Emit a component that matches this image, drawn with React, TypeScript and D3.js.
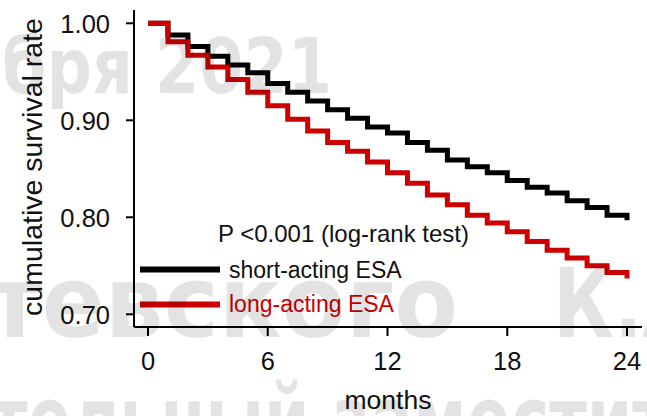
import React from "react";
import * as d3 from "d3";

// months of follow-up
const months = [0,1,2,3,4,5,6,7,8,9,10,11,12,13,14,15,16,17,18,19,20,21,22,23,24];
// cumulative survival, short-acting ESA
const shortActing = [1.0,0.988,0.976,0.966,0.957,0.949,0.938,0.929,0.920,0.911,0.902,0.893,0.887,0.877,0.869,0.859,0.852,0.846,0.838,0.831,0.825,0.817,0.810,0.802,0.797];
// cumulative survival, long-acting ESA
const longActing = [1.0,0.981,0.967,0.955,0.942,0.929,0.915,0.901,0.889,0.877,0.868,0.857,0.846,0.835,0.823,0.813,0.802,0.794,0.785,0.775,0.766,0.758,0.750,0.743,0.737];
const xTicks = [0, 6, 12, 18, 24];
const yTicks = [0.7, 0.8, 0.9, 1.0];
const seriesNames = ["short-acting ESA", "long-acting ESA"];
const seriesColors = ["#000000", "#cc0000"];
const pText = "P <0.001 (log-rank test)";

const W = 647, H = 416;
const FONT = "'Liberation Sans', Arial, Helvetica, sans-serif";
const WM_FONT = "'DejaVu Sans', 'Liberation Sans', sans-serif";

export default function App() {
  const x = d3.scaleLinear().domain([0, 24]).range([148, 627]);
  const y = d3.scaleLinear().domain([0.7, 1.0]).range([314.3, 23.3]);
  const line = d3
    .line<[number, number]>()
    .x((d) => x(d[0]))
    .y((d) => y(d[1]))
    .curve(d3.curveStepAfter);
  const seriesData = [shortActing, longActing].map((vals) =>
    months.map((m, i) => [m, vals[i]] as [number, number])
  );
  const axisLeftX = 134;
  const axisBottomY = 327;

  return (
    <svg
      width={W}
      height={H}
      viewBox={`0 0 ${W} ${H}`}
      style={{ position: "absolute", left: 0, top: 0, display: "block", background: "#fff" }}
    >
      <rect x={0} y={0} width={W} height={H} fill="#fff" />
      {/* axes */}
      <line x1={axisLeftX} x2={axisLeftX} y1={10} y2={axisBottomY} stroke="#000" strokeWidth={2} />
      <line x1={axisLeftX} x2={642} y1={axisBottomY} y2={axisBottomY} stroke="#000" strokeWidth={2} />
      {yTicks.map((t) => (
        <g key={"y" + t}>
          <line x1={axisLeftX - 8} x2={axisLeftX} y1={y(t)} y2={y(t)} stroke="#000" strokeWidth={2} />
          <text x={110} y={y(t) + 9.5} textAnchor="end" fontFamily={FONT} fontSize={25.5} fill="#111">
            {d3.format(".2f")(t)}
          </text>
        </g>
      ))}
      {xTicks.map((t) => (
        <g key={"x" + t}>
          <line x1={x(t)} x2={x(t)} y1={axisBottomY} y2={axisBottomY + 9} stroke="#000" strokeWidth={2} />
          <text x={x(t)} y={370} textAnchor="middle" fontFamily={FONT} fontSize={25.5} fill="#111">
            {t}
          </text>
        </g>
      ))}
      <text x={388} y={409} textAnchor="middle" fontFamily={FONT} fontSize={26.5} fill="#111">
        months
      </text>
      <text
        transform="translate(42,167) rotate(-90)"
        textAnchor="middle"
        fontFamily={FONT}
        fontSize={28.5}
        fill="#111"
      >
        cumulative survival rate
      </text>

      {/* survival curves */}
      {seriesData.map((d, i) => (
        <path
          key={seriesNames[i]}
          d={line(d) || ""}
          fill="none"
          stroke={seriesColors[i]}
          strokeWidth={5}
          strokeLinejoin="miter"
          strokeLinecap="butt"
        />
      ))}

      {/* annotation and legend */}
      <text x={218} y={242} fontFamily={FONT} fontSize={24} fill="#111">
        {pText}
      </text>
      {seriesNames.map((name, i) => (
        <g key={"leg" + i}>
          <line x1={140} x2={220} y1={269.5 + i * 35} y2={269.5 + i * 35} stroke={seriesColors[i]} strokeWidth={6} />
          <text x={229} y={277.5 + i * 34.5} fontFamily={FONT} fontSize={23} fill={i === 0 ? "#111" : seriesColors[i]}>
            {name}
          </text>
        </g>
      ))}

      {/* watermark */}
      <g fontFamily={WM_FONT} fontWeight="bold" fill="#000" fillOpacity={0.11}>
        <text x={2} y={93} fontSize={76} textLength={330} lengthAdjust="spacingAndGlyphs">
          бря 2021
        </text>
        <text x={-12} y={337} fontSize={100} textLength={470} lengthAdjust="spacingAndGlyphs">
          тевского
        </text>
        <text x={553} y={337} fontSize={96} textLength={147} lengthAdjust="spacingAndGlyphs">
          К.А
        </text>
        <text x={-10} y={456} fontSize={100} textLength={680} lengthAdjust="spacingAndGlyphs">
          тельный заместит
        </text>
      </g>
    </svg>
  );
}
